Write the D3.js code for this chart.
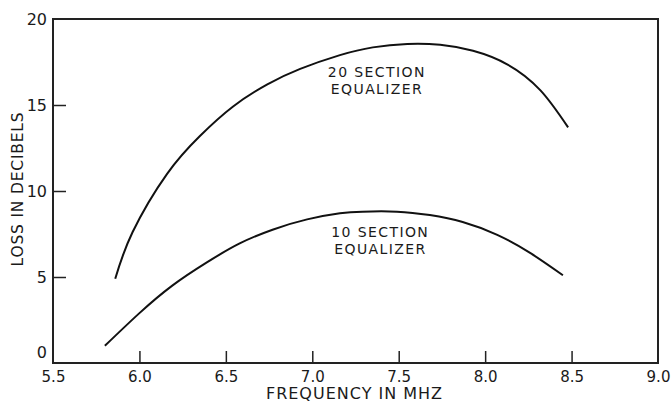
<!DOCTYPE html>
<html>
<head>
<meta charset="utf-8">
<script src="https://cdn.jsdelivr.net/npm/d3@7"></script>
<style>
  body { margin: 0; background: #fff; }
  svg text { font-family: "DejaVu Sans", sans-serif; fill: #1a1a1a; }
</style>
</head>
<body>
<div id="chart"></div>
<script>
// readings (MHz, dB)
const freq20 = [5.86, 5.96, 6.16, 6.35, 6.54, 6.74, 6.93, 7.16, 7.35, 7.55, 7.74, 7.93, 8.13, 8.32, 8.48];
const loss20 = [4.9, 7.6, 11.0, 13.2, 14.9, 16.2, 17.1, 17.9, 18.35, 18.55, 18.5, 18.15, 17.35, 15.85, 13.7];
const freq10 = [5.80, 6.00, 6.19, 6.39, 6.58, 6.77, 6.97, 7.16, 7.29, 7.49, 7.68, 7.87, 8.07, 8.26, 8.45];
const loss10 = [1.0, 2.9, 4.5, 5.85, 6.95, 7.75, 8.35, 8.7, 8.8, 8.8, 8.6, 8.2, 7.45, 6.4, 5.1];
const xTicks = [5.5, 6.0, 6.5, 7.0, 7.5, 8.0, 8.5, 9.0];
const yTicks = [0, 5, 10, 15, 20];
const curveLabels = [
  { lines: ['20 SECTION', 'EQUALIZER'], at: [7.09, 16.65] },
  { lines: ['10 SECTION', 'EQUALIZER'], at: [7.11, 7.35] },
];

const W = 671, H = 404;
const margin = { top: 19, right: 13, bottom: 41, left: 53 };
const width = W - margin.left - margin.right;
const height = H - margin.top - margin.bottom;

const svg = d3.select('#chart').append('svg')
  .attr('width', W)
  .attr('height', H);
const g = svg.append('g')
  .attr('transform', `translate(${margin.left}, ${margin.top})`);

const x = d3.scaleLinear().domain([5.5, 9.0]).range([0, width]);
const y = d3.scaleLinear().domain([0, 20]).range([height, 0]);

// x axis, ticks pointing up into the plot
const xAxis = g.append('g')
  .call(d3.axisBottom(x).tickValues(xTicks).tickFormat(d3.format('.1f'))
    .tickSizeInner(-12).tickSizeOuter(0).tickPadding(8));
xAxis.attr('transform', `translate(0, ${height})`);
xAxis.select('.domain').remove();
xAxis.selectAll('line').attr('stroke', '#222').attr('stroke-width', 1.5);
xAxis.selectAll('text').attr('font-size', 15);
xAxis.selectAll('.tick').filter(d => d === 5.5 || d === 9.0).select('line').remove();

// y axis, ticks pointing right into the plot
const yAxis = g.append('g')
  .call(d3.axisLeft(y).tickValues(yTicks)
    .tickSizeInner(-13).tickSizeOuter(0).tickPadding(6));
yAxis.select('.domain').remove();
yAxis.selectAll('line').attr('stroke', '#222').attr('stroke-width', 1.5);
yAxis.selectAll('text').attr('font-size', 16);
yAxis.selectAll('.tick').filter(d => d === 0 || d === 20).select('line').remove();
yAxis.selectAll('.tick').filter(d => d === 0).select('text').attr('dy', '-0.35em');

// frame
g.append('rect')
  .attr('width', width)
  .attr('height', height)
  .attr('fill', 'none')
  .attr('stroke', '#222')
  .attr('stroke-width', 2);

const line = d3.line()
  .x(d => x(d[0]))
  .y(d => y(d[1]))
  .curve(d3.curveNatural);

[[freq20, loss20], [freq10, loss10]].forEach(([fx, ly]) => {
  g.append('path')
    .datum(d3.zip(fx, ly))
    .attr('d', line)
    .attr('fill', 'none')
    .attr('stroke', '#111')
    .attr('stroke-width', 2);
});

// two-line labels next to each curve
curveLabels.forEach(lab => {
  lab.lines.forEach((s, i) => {
    g.append('text')
      .attr('x', x(lab.at[0]) + (i === 0 ? 0 : 3))
      .attr('y', y(lab.at[1]) + i * 17)
      .attr('font-size', 14)
      .attr('letter-spacing', 1.4)
      .text(s);
  });
});

svg.append('text')
  .attr('x', margin.left + width / 2 - 1)
  .attr('y', 399)
  .attr('text-anchor', 'middle')
  .attr('font-size', 16)
  .attr('letter-spacing', 1)
  .text('FREQUENCY IN MHZ');

svg.append('text')
  .attr('transform', 'translate(23, 189) rotate(-90)')
  .attr('text-anchor', 'middle')
  .attr('font-size', 15.5)
  .attr('letter-spacing', 0.8)
  .text('LOSS IN DECIBELS');
</script>
</body>
</html>
